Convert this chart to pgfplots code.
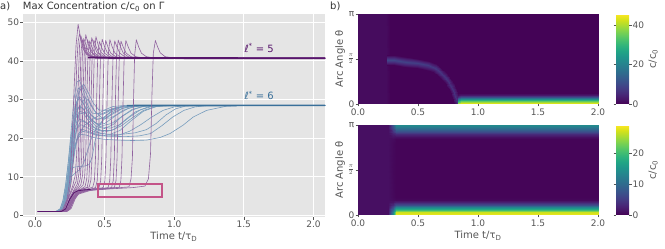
\documentclass[border=0pt]{standalone}
\usepackage{pgfplots}
\pgfplotsset{compat=1.18}
\usepackage{fontspec}
\setmainfont{DejaVu Sans}
\definecolor{ggbg}{RGB}{229,229,229}
\definecolor{tickc}{RGB}{85,85,85}
\definecolor{labc}{RGB}{85,85,85}
\definecolor{titc}{RGB}{51,51,51}
\definecolor{viol}{RGB}{88,22,108}
\definecolor{violl}{RGB}{146,100,160}
\definecolor{bluel}{RGB}{58,112,154}
\definecolor{bluell}{RGB}{120,158,190}
\definecolor{pinkhl}{RGB}{196,84,136}
\newcommand\tk{\fontsize{9}{9}\selectfont}
\newcommand\lb{\fontsize{10}{10}\selectfont}
\pgfplotsset{
  mytick/.style={
    tick align=outside, major tick length=2.5pt,
    tick style={color=tickc, line width=0.6pt},
    tick pos=left,
    tick label style={font=\tk, text=labc, inner sep=1pt},
    label style={font=\lb, text=labc},
    /pgf/number format/assume math mode=true,
  },
  cbstyle/.style={
    at={(1.075,1)}, anchor=north west, width=13pt,
    axis line style={draw=none},
    tick align=outside, major tick length=2.5pt,
    tick style={color=tickc, line width=0.6pt},
    yticklabel style={font=\tk, text=labc, inner sep=1pt},
    ylabel={c/c\textsubscript{0}}, ylabel style={font=\lb, text=labc},
    /pgf/number format/assume math mode=true,
  },
  vl/.style={draw=violl, line width=0.6pt, line join=round},
  bl/.style={draw=bluell, line width=0.6pt, line join=round},
}
\begin{document}
\begin{tikzpicture}
\path[use as bounding box] (0pt,0pt) rectangle (665pt,249pt);
\node[anchor=base west, font=\lb, text=titc, inner sep=0pt] at (0pt,239pt) {a)};
\node[anchor=base west, font=\lb, text=titc, inner sep=0pt] at (330pt,239pt) {b)};
\node[anchor=base west, font=\lb, text=titc, inner sep=0pt] at (22.7pt,239pt) {Max Concentration c/c\textsubscript{0} on Γ};

% ---------------- left panel ----------------
\begin{axis}[
  at={(22.7pt,31.8pt)}, anchor=south west,
  width=302.3pt, height=203.2pt, scale only axis,
  xmin=-0.088, xmax=2.083, ymin=-0.45, ymax=52.15,
  axis background/.style={fill=ggbg},
  axis line style={draw=none},
  grid=major, major grid style={draw=white, line width=0.9pt},
  mytick, no markers,
  xtick={0,0.5,1,1.5,2}, ytick={0,10,20,30,40,50},
  xticklabel style={/pgf/number format/.cd, fixed, fixed zerofill, precision=1},
  xlabel={Time t/τ\textsubscript{D}},
]
% ---- l* = 6 (blue) ----
\addplot[bl] coordinates {(0.02,1)(0.15,1.05)(0.18,1.6)(0.20,3.5)(0.22,7.5)(0.24,14)(0.26,22)(0.28,30)(0.30,34.5)(0.32,35)(0.35,32)(0.38,28.5)(0.41,26.5)(0.45,26.3)(0.50,27.3)(0.56,28.2)(0.65,28.5)(2.1,28.5)};
\addplot[bl] coordinates {(0.02,1)(0.16,1.05)(0.19,1.8)(0.21,4)(0.23,8.5)(0.25,15)(0.27,23)(0.29,29.5)(0.31,33)(0.33,32.5)(0.36,29.5)(0.40,26)(0.44,24.8)(0.49,25.3)(0.55,26.8)(0.62,28)(0.72,28.5)(2.1,28.5)};
\addplot[bl] coordinates {(0.02,1)(0.16,1.05)(0.19,1.7)(0.21,3.8)(0.23,8)(0.25,14.5)(0.27,21.5)(0.29,27.5)(0.31,30.5)(0.33,30.6)(0.36,28)(0.40,25)(0.45,23.6)(0.50,23.8)(0.56,25.3)(0.63,27.2)(0.72,28.3)(0.82,28.5)(2.1,28.5)};
\addplot[bl] coordinates {(0.02,1)(0.17,1.05)(0.20,1.8)(0.22,4.2)(0.24,9)(0.26,15.5)(0.28,22)(0.30,26.5)(0.32,28.5)(0.35,27.5)(0.39,25)(0.44,23)(0.50,22.5)(0.56,23.5)(0.63,25.8)(0.70,27.5)(0.80,28.4)(2.1,28.5)};
\addplot[bl] coordinates {(0.02,1)(0.17,1.05)(0.20,1.7)(0.22,3.8)(0.24,8)(0.26,14)(0.28,20)(0.30,24.5)(0.32,26.5)(0.35,26.3)(0.39,24.2)(0.44,22.3)(0.50,21.6)(0.57,22.3)(0.64,24.5)(0.72,26.8)(0.82,28.2)(0.92,28.5)(2.1,28.5)};
\addplot[bl] coordinates {(0.02,1)(0.16,1.05)(0.19,1.6)(0.21,3.5)(0.23,7.5)(0.25,13)(0.27,19)(0.29,23)(0.32,25)(0.36,24.3)(0.41,22.5)(0.47,21.2)(0.54,21)(0.61,22)(0.69,24.5)(0.78,27)(0.88,28.3)(1.0,28.5)(2.1,28.5)};
\addplot[bl] coordinates {(0.02,1)(0.17,1.05)(0.20,1.6)(0.22,3.4)(0.24,7)(0.26,12)(0.28,16.5)(0.30,19.5)(0.33,21)(0.37,20.8)(0.43,20.1)(0.50,19.7)(0.60,19.5)(0.70,19.4)(0.80,19.5)(0.90,20.2)(0.97,21.2)(1.065,23.4)(1.137,25.5)(1.233,27.2)(1.377,28.3)(1.5,28.5)(2.1,28.5)};
\addplot[bl] coordinates {(0.02,1)(0.18,1.05)(0.21,1.7)(0.23,3.6)(0.25,7.5)(0.27,13)(0.29,18)(0.31,21)(0.34,22.3)(0.38,21.8)(0.45,20.9)(0.55,20.5)(0.65,20.4)(0.75,20.6)(0.83,21.2)(0.91,23.2)(0.99,25.5)(1.07,27.2)(1.15,28.1)(1.25,28.5)(2.1,28.5)};
\addplot[bl] coordinates {(0.02,1)(0.17,1.05)(0.20,1.7)(0.22,3.7)(0.24,8)(0.26,14)(0.28,19.5)(0.30,22.5)(0.33,23.5)(0.37,22.8)(0.43,21.6)(0.52,21)(0.62,21)(0.72,21.4)(0.80,22.2)(0.87,23.8)(0.94,26)(1.01,27.6)(1.08,28.3)(1.18,28.5)(2.1,28.5)};
\addplot[bl] coordinates {(0.02,1)(0.16,1.05)(0.19,1.8)(0.21,4)(0.23,8)(0.25,11.5)(0.28,12.5)(0.32,12.7)(0.36,12.8)(0.39,13.2)(0.41,15)(0.43,19)(0.46,23)(0.50,25.5)(0.56,27.4)(0.64,28.3)(0.75,28.5)(2.1,28.5)};
\addplot[bl] coordinates {(0.02,1)(0.17,1.05)(0.20,1.8)(0.22,4)(0.24,8.5)(0.26,15)(0.28,22)(0.30,28)(0.32,32)(0.34,33.5)(0.37,31.5)(0.40,28.5)(0.44,26.5)(0.49,26.2)(0.55,27.3)(0.62,28.2)(0.70,28.5)(2.1,28.5)};
\addplot[bl] coordinates {(0.02,1)(0.18,1.05)(0.21,1.7)(0.23,3.8)(0.25,8)(0.27,14)(0.29,20)(0.31,25)(0.33,28.5)(0.36,30.5)(0.39,29.5)(0.43,27)(0.48,25.3)(0.54,25.2)(0.60,26.3)(0.67,27.7)(0.75,28.4)(2.1,28.5)};
\addplot[bl] coordinates {(0.02,1)(0.16,1.05)(0.19,1.7)(0.21,3.9)(0.23,8.5)(0.25,15)(0.27,21.5)(0.29,26)(0.31,28)(0.34,27.8)(0.38,25.8)(0.43,24)(0.49,23.3)(0.55,23.8)(0.62,25.5)(0.70,27.3)(0.78,28.3)(0.88,28.5)(2.1,28.5)};
\addplot[bl] coordinates {(0.02,1)(0.17,1.05)(0.20,1.6)(0.22,3.5)(0.24,7.5)(0.26,13)(0.28,18.5)(0.30,22.5)(0.33,24.5)(0.37,24)(0.42,22.8)(0.48,22)(0.55,22)(0.62,23.2)(0.70,25.3)(0.78,27.2)(0.87,28.2)(0.97,28.5)(2.1,28.5)};
\addplot[bl] coordinates {(0.02,1)(0.18,1.05)(0.21,1.8)(0.23,4)(0.25,8.5)(0.27,14)(0.29,18.5)(0.32,21.5)(0.36,23.5)(0.42,25)(0.48,26.3)(0.55,27.5)(0.63,28.2)(0.72,28.5)(2.1,28.5)};
\addplot[bl] coordinates {(0.02,1)(0.15,1.05)(0.18,1.7)(0.20,3.8)(0.22,8)(0.24,14)(0.26,20.5)(0.28,26)(0.30,29.5)(0.32,30.3)(0.35,28.8)(0.39,26.5)(0.44,25)(0.50,25)(0.56,26.3)(0.63,27.7)(0.72,28.4)(2.1,28.5)};
\addplot[bl] coordinates {(0.02,1)(0.17,1.05)(0.20,1.7)(0.22,3.8)(0.24,7.5)(0.26,10)(0.29,11)(0.32,11.8)(0.35,13.5)(0.38,17)(0.41,20.5)(0.45,23.2)(0.50,25)(0.56,26.6)(0.63,27.8)(0.72,28.4)(2.1,28.5)};
\addplot[bl] coordinates {(0.02,1)(0.16,1.05)(0.19,1.6)(0.21,3.6)(0.23,7.8)(0.25,14)(0.27,20.5)(0.29,25)(0.32,27)(0.36,26.5)(0.41,24.6)(0.47,23)(0.54,22.6)(0.61,23.5)(0.68,25.5)(0.76,27.4)(0.85,28.3)(0.95,28.5)(2.1,28.5)};
\addplot[bl] coordinates {(0.02,1)(0.17,1.05)(0.20,1.8)(0.22,4.2)(0.24,9)(0.26,16)(0.28,23)(0.30,29)(0.32,33)(0.35,34)(0.38,32)(0.42,29)(0.46,27.3)(0.52,27.2)(0.58,27.9)(0.66,28.4)(2.1,28.5)};
\addplot[bl] coordinates {(0.02,1)(0.18,1.05)(0.21,1.6)(0.23,3.5)(0.25,7.2)(0.27,12.5)(0.29,17.5)(0.31,20.5)(0.34,21.8)(0.38,21.5)(0.44,20.8)(0.52,20.5)(0.60,20.8)(0.68,21.8)(0.76,23.5)(0.84,25.5)(0.92,27.2)(1.0,28.1)(1.1,28.5)(2.1,28.5)};
% converged blue level (many curves on top of each other)
\addplot[draw=bluel, line width=1.6pt] coordinates {(0.66,28.45)(2.1,28.5)};
% ---- l* = 5 (violet) ----
\addplot[vl] coordinates {(0.02,1)(0.17,1.02)(0.20,1.6)(0.23,4.2)(0.25,9)(0.265,18)(0.28,32)(0.295,44)(0.31,49.5)(0.325,46.5)(0.345,43.2)(0.37,41.7)(0.41,41)(0.48,40.75)(2.1,40.7)};
\addplot[vl] coordinates {(0.02,1)(0.18,1.02)(0.21,1.8)(0.24,4.8)(0.26,8.5)(0.275,14)(0.29,27)(0.30,39)(0.31,45)(0.32,47)(0.335,45)(0.355,42.6)(0.38,41.5)(0.43,40.9)(2.1,40.7)};
\addplot[vl] coordinates {(0.02,1)(0.18,1.02)(0.21,1.7)(0.24,4.6)(0.27,7.5)(0.29,10.5)(0.30,16)(0.31,33)(0.32,44)(0.33,46.5)(0.345,44.5)(0.365,42.4)(0.39,41.4)(0.44,40.85)(2.1,40.7)};
\addplot[vl] coordinates {(0.02,1)(0.18,1.02)(0.21,1.6)(0.24,4.4)(0.27,6.8)(0.295,8.8)(0.31,13)(0.32,28)(0.33,42)(0.34,45.5)(0.355,44)(0.375,42.2)(0.40,41.3)(0.45,40.8)(2.1,40.7)};
\addplot[vl] coordinates {(0.02,1)(0.19,1.02)(0.22,1.8)(0.25,4.6)(0.28,6.6)(0.305,8.2)(0.32,12)(0.33,26)(0.34,41)(0.35,45.8)(0.365,44.3)(0.385,42.4)(0.41,41.3)(0.46,40.8)(2.1,40.7)};
\addplot[vl] coordinates {(0.02,1)(0.19,1.02)(0.22,1.7)(0.25,4.4)(0.28,6.3)(0.31,7.6)(0.325,9.5)(0.335,15)(0.345,31)(0.355,43)(0.365,46.8)(0.38,44.6)(0.40,42.5)(0.43,41.3)(0.48,40.8)(2.1,40.7)};
\addplot[vl] coordinates {(0.02,1)(0.19,1.02)(0.22,1.6)(0.25,4.2)(0.28,6.2)(0.31,7.0)(0.33,8.0)(0.342,10.5)(0.35,16)(0.358,31)(0.366,42)(0.378,45.5)(0.395,43.6)(0.415,42)(0.45,41.1)(0.51,40.75)(2.1,40.7)};
\addplot[vl] coordinates {(0.02,1)(0.20,1.02)(0.23,1.8)(0.26,4.5)(0.29,6.2)(0.32,6.9)(0.345,7.8)(0.357,10)(0.365,16)(0.373,31)(0.381,42)(0.393,45.2)(0.41,43.5)(0.43,42)(0.465,41.1)(0.525,40.75)(2.1,40.7)};
\addplot[vl] coordinates {(0.02,1)(0.20,1.02)(0.23,1.7)(0.26,4.3)(0.29,6.0)(0.33,6.8)(0.36,7.5)(0.372,9.5)(0.38,15)(0.388,30)(0.396,41.5)(0.408,46)(0.425,44)(0.445,42.2)(0.48,41.1)(0.54,40.75)(2.1,40.7)};
\addplot[vl] coordinates {(0.02,1)(0.20,1.02)(0.24,1.9)(0.27,4.6)(0.30,6.1)(0.34,6.8)(0.375,7.3)(0.387,9.3)(0.395,15)(0.403,30)(0.411,41.5)(0.423,45.4)(0.44,43.6)(0.46,42)(0.495,41.1)(0.555,40.75)(2.1,40.7)};
\addplot[vl] coordinates {(0.02,1)(0.19,1.02)(0.22,1.6)(0.25,4.0)(0.28,5.9)(0.32,6.7)(0.36,7.0)(0.39,7.4)(0.402,9.2)(0.41,15)(0.418,30)(0.426,41.5)(0.438,46.3)(0.455,44)(0.475,42.2)(0.51,41.1)(0.57,40.75)(2.1,40.7)};
\addplot[vl] coordinates {(0.02,1)(0.21,1.02)(0.24,1.7)(0.27,4.3)(0.30,5.9)(0.34,6.6)(0.38,6.9)(0.415,7.3)(0.427,9)(0.435,15)(0.443,30)(0.451,41.5)(0.463,45)(0.48,43.4)(0.50,42)(0.535,41.1)(0.595,40.75)(2.1,40.7)};
\addplot[vl] coordinates {(0.02,1)(0.20,1.02)(0.23,1.6)(0.26,4.0)(0.30,5.8)(0.35,6.6)(0.40,6.8)(0.435,7.2)(0.447,9)(0.455,15)(0.463,30)(0.471,41.5)(0.483,45.6)(0.50,43.7)(0.52,42.1)(0.555,41.1)(0.615,40.75)(2.1,40.7)};
\addplot[vl] coordinates {(0.02,1)(0.21,1.02)(0.24,1.8)(0.27,4.4)(0.30,5.9)(0.35,6.6)(0.42,6.9)(0.46,7.2)(0.472,9)(0.48,15)(0.488,30)(0.496,41.5)(0.508,45.3)(0.525,43.5)(0.545,42)(0.58,41.1)(0.64,40.75)(2.1,40.7)};
\addplot[vl] coordinates {(0.02,1)(0.22,1.02)(0.25,1.8)(0.28,4.5)(0.31,6.0)(0.36,6.6)(0.44,6.9)(0.49,7.2)(0.502,9)(0.51,15)(0.518,30)(0.526,41.5)(0.538,45.5)(0.555,43.6)(0.575,42)(0.61,41.1)(0.67,40.75)(2.1,40.7)};
\addplot[vl] coordinates {(0.02,1)(0.21,1.02)(0.24,1.6)(0.27,4.1)(0.30,5.7)(0.36,6.5)(0.45,6.9)(0.525,7.2)(0.537,9)(0.545,15)(0.553,30)(0.561,41.5)(0.573,45.2)(0.59,43.5)(0.61,42)(0.645,41.1)(0.705,40.75)(2.1,40.7)};
\addplot[vl] coordinates {(0.02,1)(0.22,1.02)(0.25,1.7)(0.28,4.3)(0.31,5.8)(0.37,6.5)(0.47,6.9)(0.55,7.2)(0.562,9)(0.57,15)(0.578,30)(0.586,41.5)(0.598,45.4)(0.615,43.6)(0.635,42)(0.67,41.1)(0.73,40.75)(2.1,40.7)};
\addplot[vl] coordinates {(0.02,1)(0.21,1.02)(0.24,1.6)(0.27,4.0)(0.30,5.6)(0.37,6.4)(0.48,6.9)(0.57,7.2)(0.582,9)(0.59,15)(0.598,30)(0.606,41.5)(0.618,45.1)(0.635,43.5)(0.655,42)(0.69,41.1)(0.75,40.75)(2.1,40.7)};
\addplot[vl] coordinates {(0.02,1)(0.22,1.02)(0.25,1.7)(0.28,4.2)(0.31,5.7)(0.38,6.5)(0.50,6.9)(0.605,7.3)(0.617,9)(0.625,15)(0.633,30)(0.641,41.5)(0.653,45.3)(0.67,43.6)(0.69,42)(0.725,41.1)(0.785,40.75)(2.1,40.7)};
\addplot[vl] coordinates {(0.02,1)(0.23,1.02)(0.26,1.8)(0.29,4.4)(0.32,5.9)(0.40,6.6)(0.55,7.0)(0.675,7.4)(0.69,9.5)(0.70,15)(0.708,30)(0.716,41.5)(0.728,45.5)(0.745,43.6)(0.765,42)(0.80,41.1)(0.86,40.75)(2.1,40.7)};
\addplot[vl] coordinates {(0.02,1)(0.22,1.02)(0.25,1.6)(0.28,4.0)(0.31,5.5)(0.40,6.5)(0.55,6.9)(0.70,7.2)(0.79,7.6)(0.815,9.5)(0.83,16)(0.84,31)(0.85,42)(0.865,45.3)(0.88,43.7)(0.90,42.1)(0.935,41.1)(1.0,40.75)(2.1,40.7)};
% converged violet level and dense start / plateau
\addplot[draw=viol, line width=1.8pt] coordinates {(0.38,40.9)(0.6,40.75)(2.1,40.7)};
\addplot[draw=viol, line width=0.8pt] coordinates {(0.02,1)(0.19,1.03)(0.22,1.7)(0.25,4.2)(0.28,5.9)(0.31,6.4)(0.35,6.6)(0.40,6.75)};
% highlight box
\addplot[draw=pinkhl, line width=1.9pt] coordinates {(0.45,4.7)(0.91,4.7)(0.91,8.2)(0.45,8.2)(0.45,4.7)(0.91,4.7)};
\node[text=viol, font=\lb] at (axis cs:1.61,43.3) {\textit{ℓ}\textsuperscript{*} = 5};
\node[text=bluel, font=\lb] at (axis cs:1.61,31.1) {\textit{ℓ}\textsuperscript{*} = 6};
\end{axis}

% ---------------- top heatmap ----------------
\begin{axis}[
  at={(358pt,145pt)}, anchor=south west,
  width=240pt, height=90pt, scale only axis,
  xmin=0, xmax=2, ymin=0, ymax=1,
  mytick, axis line style={draw=none},
  xtick={0,0.5,1,1.5,2},
  xticklabel style={yshift=-0.8pt, /pgf/number format/.cd, fixed, fixed zerofill, precision=1},
  ytick={0,0.5,1}, yticklabels={0,$\frac{\pi}{2}$,π},
  ylabel={Arc Angle θ}, ylabel style={at={(axis description cs:-0.075,0.5)}, anchor=center},
  colormap/viridis, point meta min=0, point meta max=45.8,
  colorbar, colorbar style={cbstyle, ytick={0,20,40}},
]
\addplot[surf, shader=interp, mesh/cols=4, point meta=explicit] table[x=t, y=f, meta=c] {
t f c
0 0 1.3
0.23 0 1.3
0.27 0 0.25
2 0 0.25
0 1 1.3
0.23 1 1.3
0.27 1 0.25
2 1 0.25
};
\addplot[surf, shader=interp, mesh/cols=14, point meta=explicit] table[x=t, y=f, meta=c] {
t f c
0.2375 0.4344 0.25
0.2963 0.4294 0.25
0.3946 0.4150 0.25
0.4936 0.3972 0.25
0.5699 0.3820 0.25
0.6228 0.3581 0.25
0.6586 0.3260 0.25
0.6955 0.2799 0.25
0.7236 0.2367 0.25
0.7435 0.1912 0.25
0.7635 0.1439 0.25
0.7825 0.0770 0.25
0.7978 0.0159 0.25
0.8083 -0.0158 0.25
0.24 0.49 9.5
0.30 0.485 9.5
0.40 0.47 9
0.50 0.45 8.5
0.58 0.43 8
0.64 0.40 7.5
0.68 0.36 7
0.72 0.31 6.8
0.75 0.26 6.5
0.77 0.21 6.3
0.79 0.16 6.3
0.81 0.09 6.5
0.825 0.03 7
0.835 0.0 8
0.2425 0.5456 0.25
0.3038 0.5406 0.25
0.4054 0.5250 0.25
0.5064 0.5028 0.25
0.5901 0.4780 0.25
0.6572 0.4419 0.25
0.7014 0.3940 0.25
0.7445 0.3401 0.25
0.7764 0.2833 0.25
0.7965 0.2288 0.25
0.8165 0.1761 0.25
0.8375 0.1030 0.25
0.8522 0.0441 0.25
0.8617 0.0158 0.25
};
\addplot[surf, shader=interp, mesh/cols=3, point meta=explicit] table[x=t, y=f, meta=c] {
t f c
0.835 0 42
0.86 0 45.5
2 0 45
0.835 0.015 38
0.86 0.015 43
2 0.015 43
0.835 0.033 28
0.86 0.033 35
2 0.033 35
0.835 0.056 16
0.86 0.056 23
2 0.056 23
0.835 0.081 6
0.86 0.081 11
2 0.081 11
0.835 0.1 1.5
0.86 0.1 3
2 0.1 3
0.835 0.12 0.25
0.86 0.12 0.25
2 0.12 0.25
};
\end{axis}

% ---------------- bottom heatmap ----------------
\begin{axis}[
  at={(358pt,34pt)}, anchor=south west,
  width=240pt, height=90pt, scale only axis,
  xmin=0, xmax=2, ymin=0, ymax=1,
  mytick, axis line style={draw=none},
  xtick={0,0.5,1,1.5,2},
  xticklabel style={yshift=-0.8pt, /pgf/number format/.cd, fixed, fixed zerofill, precision=1},
  ytick={0,0.5,1}, yticklabels={0,$\frac{\pi}{2}$,π},
  ylabel={Arc Angle θ}, ylabel style={at={(axis description cs:-0.075,0.5)}, anchor=center},
  xlabel={Time t/τ\textsubscript{D}},
  colormap/viridis, point meta min=0, point meta max=29.2,
  colorbar, colorbar style={cbstyle, ytick={0,10,20}},
]
\addplot[surf, shader=interp, mesh/cols=5, point meta=explicit] table[x=t, y=f, meta=c] {
t f c
0 0 1.1
0.25 0 1.1
0.29 0 14
0.32 0 28.5
2 0 28.5
0 0.03 1.1
0.25 0.03 1.1
0.29 0.03 13
0.32 0.03 27
2 0.03 27
0 0.056 1.1
0.25 0.056 1.1
0.29 0.056 10
0.32 0.056 20
2 0.056 20
0 0.085 1.1
0.25 0.085 1.1
0.29 0.085 6.5
0.32 0.085 13
2 0.085 13
0 0.11 1.1
0.25 0.11 1.1
0.29 0.11 3.5
0.32 0.11 7
2 0.11 7
0 0.14 1.1
0.25 0.14 1.1
0.29 0.14 1.5
0.32 0.14 2.5
2 0.14 2.5
0 0.167 1.1
0.25 0.167 1.1
0.29 0.167 0.8
0.32 0.167 0.6
2 0.167 0.6
0 0.2 1.1
0.25 0.2 1.1
0.29 0.2 0.6
0.32 0.2 0.3
2 0.2 0.3
0 0.5 1.1
0.25 0.5 1.1
0.29 0.5 0.5
0.32 0.5 0.3
2 0.5 0.3
0 0.8 1.1
0.25 0.8 1.1
0.29 0.8 0.6
0.32 0.8 0.3
2 0.8 0.3
0 0.84 1.1
0.25 0.84 1.1
0.29 0.84 0.8
0.32 0.84 0.35
2 0.84 0.35
0 0.87 1.1
0.25 0.87 1.1
0.29 0.87 1.4
0.32 0.87 1.2
2 0.87 1.2
0 0.9 1.1
0.25 0.9 1.1
0.29 0.9 2.5
0.32 0.9 3.5
2 0.9 3.5
0 0.926 1.1
0.25 0.926 1.1
0.29 0.926 4
0.32 0.926 6.5
2 0.926 6.5
0 0.963 1.1
0.25 0.963 1.1
0.29 0.963 6.5
0.32 0.963 11
2 0.963 11
0 1 1.1
0.25 1 1.1
0.29 1 8
0.32 1 14
2 1 14
};
\end{axis}
\end{tikzpicture}
\end{document}
